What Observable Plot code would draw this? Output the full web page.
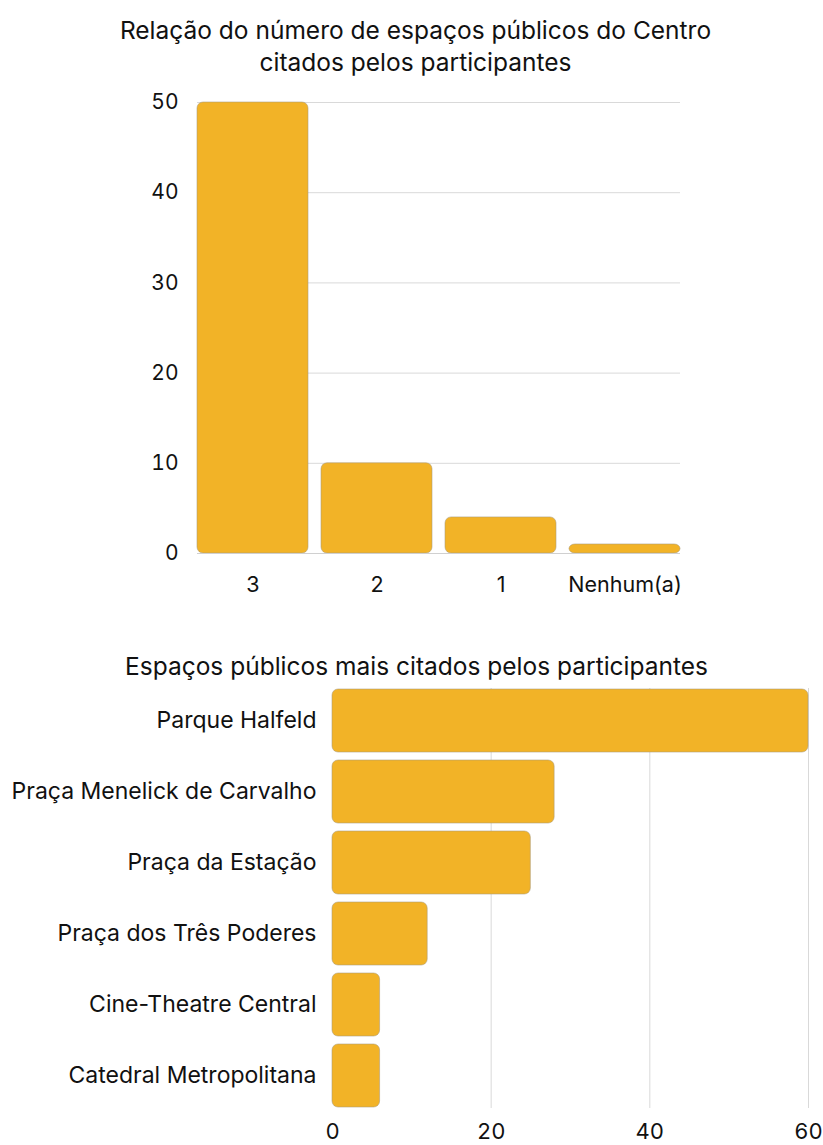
<!DOCTYPE html>
<html><head><meta charset="utf-8">
<script src="https://cdn.jsdelivr.net/npm/d3@7"></script>
<script src="https://cdn.jsdelivr.net/npm/@observablehq/plot@0.6"></script>
<style>
html,body{margin:0;padding:0;background:#fff;width:823px;height:1145px;overflow:hidden;font-family:Inter,"Noto Sans",sans-serif;color:#111;}
.title{position:absolute;left:0;width:823px;text-align:center;font-size:24.5px;line-height:32px;color:#111;}
.chart{position:absolute;left:0;}
</style></head>
<body>
<div class="title" style="top:14px;padding-left:8px;box-sizing:border-box">Relação do número de espaços públicos do Centro<br>citados pelos participantes</div>
<div class="chart" id="c1" style="top:80px"></div>
<div class="title" style="top:650px;padding-left:10px;box-sizing:border-box">Espaços públicos mais citados pelos participantes</div>
<div class="chart" id="c2" style="top:680px"></div>
<script>
const countCategories = ["3", "2", "1", "Nenhum(a)"];
const countValues = [50, 10, 4, 1];
const countTicks = [0, 10, 20, 30, 40, 50];

const places = ["Parque Halfeld", "Praça Menelick de Carvalho", "Praça da Estação", "Praça dos Três Poderes", "Cine-Theatre Central", "Catedral Metropolitana"];
const placeValues = [60, 28, 25, 12, 6, 6];
const placeTicks = [0, 20, 40, 60];

const barFill = "#F2B327";
const font = "Inter, 'Noto Sans', sans-serif";

const d1 = countCategories.map((c, i) => ({cat: c, value: countValues[i]}));
const d2 = places.map((p, i) => ({place: p, value: placeValues[i]}));

const p1 = Plot.plot({
  width: 823, height: 530,
  marginLeft: 197, marginRight: 143, marginTop: 22, marginBottom: 57,
  style: {fontFamily: font, fontSize: "21px", color: "#111", background: "transparent"},
  x: {domain: countCategories, paddingInner: 0.105, paddingOuter: 0, label: null},
  y: {domain: [0, 50], label: null},
  marks: [
    Plot.gridY(countTicks, {stroke: "#d9d9d9", strokeOpacity: 1, strokeWidth: 1}),
    Plot.axisY(countTicks, {tickSize: 0, tickPadding: 19, label: null, fontSize: 21}),
    Plot.axisX({tickSize: 0, tickPadding: 23, label: null, fontSize: 21.5}),
    Plot.barY(d1, {x: "cat", y: "value", fill: barFill, stroke: "#a89a7a", strokeWidth: 0.8, strokeOpacity: 0.7, rx: 6}),
    Plot.ruleY([0], {stroke: "#d0d0d0"})
  ]
});
document.getElementById("c1").appendChild(p1);

const p2 = Plot.plot({
  width: 823, height: 465,
  marginLeft: 332, marginRight: 15, marginTop: 8, marginBottom: 37,
  style: {fontFamily: font, fontSize: "23px", color: "#111", background: "transparent"},
  y: {domain: places, paddingInner: 0.11, paddingOuter: 0, label: null},
  x: {domain: [0, 60], label: null},
  marks: [
    Plot.gridX(placeTicks.slice(1), {stroke: "#d9d9d9", strokeOpacity: 1}),
    Plot.axisX(placeTicks, {tickSize: 0, tickPadding: 15, label: null, fontSize: 22}),
    Plot.axisY({tickSize: 0, tickPadding: 16, label: null, fontSize: 23}),
    Plot.barX(d2, {y: "place", x: "value", fill: barFill, stroke: "#a89a7a", strokeWidth: 0.8, strokeOpacity: 0.7, rx: 6})
  ]
});
document.getElementById("c2").appendChild(p2);
</script>
</body></html>
